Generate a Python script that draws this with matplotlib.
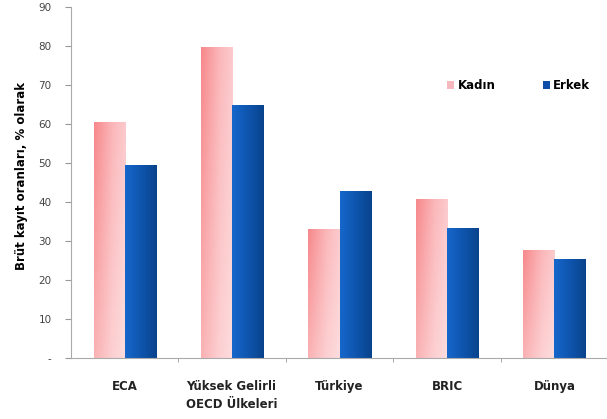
import matplotlib.pyplot as plt
import matplotlib.transforms as mtransforms
import numpy as np
from matplotlib.colors import LinearSegmentedColormap
from matplotlib.patches import Patch

categories = ['ECA', 'Yüksek Gelirli\nOECD Ülkeleri', 'Türkiye', 'BRIC', 'Dünya']
kadin = [60.5, 79.7, 33.1, 40.8, 27.7]
erkek = [49.5, 64.9, 42.8, 33.3, 25.4]
yticks = [0, 10, 20, 30, 40, 50, 60, 70, 80, 90]
ytick_labels = ['-', '10', '20', '30', '40', '50', '60', '70', '80', '90']

pink_cmap = LinearSegmentedColormap.from_list('pink', ['#f7888b', '#fbb7ba', '#fcd2d4'])
blue_cmap = LinearSegmentedColormap.from_list('blue', ['#1667cc', '#0d52a8', '#083c80'])

fig = plt.figure(figsize=(6.07, 4.19), dpi=100)
ax = fig.add_axes([0.117, 0.1456, 0.885, 0.8374])

x = np.arange(len(categories))
w = 0.29


def gradient_bars(bars, cmap, vertical_fade):
    # fill each bar with a left-to-right gradient, optionally fading toward the bottom
    for b in bars:
        x0, y0 = b.get_x(), b.get_y()
        x1, y1 = x0 + b.get_width(), y0 + b.get_height()
        h = np.linspace(0, 1, 64)[None, :]
        v = np.linspace(0, 1, 64)[:, None]
        rgba = cmap(np.repeat(h, 64, axis=0) * 0.85)
        if vertical_fade:
            fade = (1 - v) * 0.35
            rgba[..., :3] = rgba[..., :3] + (1 - rgba[..., :3]) * fade[..., None]
        im = ax.imshow(rgba, extent=[x0, x1, y0, y1], origin='lower',
                       aspect='auto', zorder=2, interpolation='bilinear')
        im.set_clip_path(b)
        b.set_facecolor('none')
        b.set_edgecolor('none')


b1 = ax.bar(x - w / 2, kadin, w, zorder=2)
b2 = ax.bar(x + w / 2, erkek, w, zorder=2)
gradient_bars(b1, pink_cmap, True)
gradient_bars(b2, blue_cmap, False)

ax.set_xlim(-0.5, len(categories) - 0.5)
ax.set_ylim(0, 90)
ax.set_yticks(yticks)
ax.set_yticklabels(ytick_labels, fontsize=7.5, color='#444444')
ax.set_xticks(x)
ax.set_xticklabels(categories, fontsize=8.5, fontweight='bold', color='#222222',
                   ha='center', multialignment='left', linespacing=1.5)
# small horizontal nudges of the category labels (pixels)
for lbl, off in zip(ax.get_xticklabels(), [-2, -9, -7, 1, -12]):
    lbl.set_transform(lbl.get_transform() + mtransforms.ScaledTranslation(off / 100, 0, fig.dpi_scale_trans))
ax.tick_params(axis='x', length=0, pad=16)
ax.set_xticks(np.arange(0.5, len(categories) - 0.5), minor=True)
ax.tick_params(axis='x', which='minor', length=3, color='#999999')
ax.tick_params(axis='y', length=4, color='#999999', pad=10)

ax.spines['top'].set_visible(False)
ax.spines['right'].set_visible(False)
ax.spines['left'].set_color('#aaaaaa')
ax.spines['bottom'].set_color('#aaaaaa')

ax.set_ylabel('Brüt kayıt oranları, % olarak', fontsize=8.5, fontweight='bold')
ax.yaxis.set_label_coords(-0.08, 0.52)

handles = [Patch(facecolor='#f6b8bd', label='Kadın'), Patch(facecolor='#0d4fa8', label='Erkek')]
ax.legend(handles=handles, ncol=2, frameon=False, loc='upper left',
          bbox_to_anchor=(0.68, 0.825), handlelength=0.6, handleheight=0.6,
          handletextpad=0.3, columnspacing=4.0, prop={'weight': 'bold', 'size': 8.5})

fig.savefig('out.png', dpi=100)
